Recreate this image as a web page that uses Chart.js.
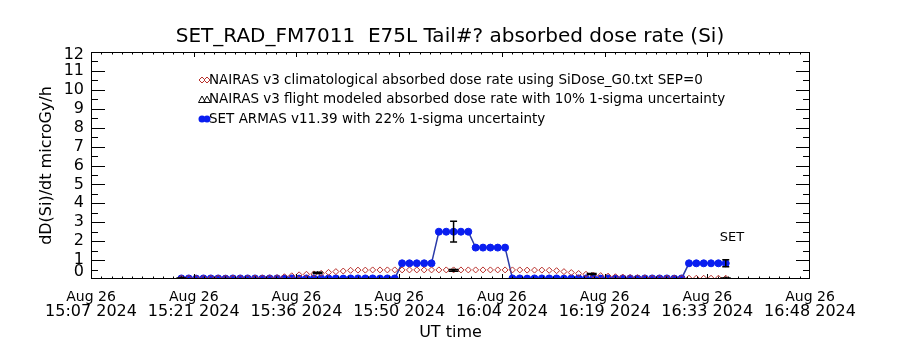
<!DOCTYPE html>
<html>
<head>
<meta charset="utf-8">
<title>SET_RAD_FM7011 absorbed dose rate</title>
<script src="https://cdn.jsdelivr.net/npm/chart.js@4"></script>
<style>
  html, body { margin: 0; padding: 0; background: #fff; }
  #chart { display: block; }
</style>
</head>
<body>
<canvas id="chart" width="900" height="350"></canvas>
<script>
// ARMAS record times (UT, Aug 26 2024)
const sampleTimes = [
  '15:19:42', '15:20:44', '15:21:46', '15:22:48', '15:23:50', '15:24:52', '15:25:54', '15:26:56', '15:27:58', '15:29:00',
  '15:30:02', '15:31:04', '15:32:06', '15:33:08', '15:34:10', '15:35:12', '15:36:14', '15:37:16', '15:38:18', '15:39:20',
  '15:40:22', '15:41:24', '15:42:26', '15:43:28', '15:44:30', '15:45:32', '15:46:34', '15:47:36', '15:48:38', '15:49:40',
  '15:50:42', '15:51:44', '15:52:46', '15:53:48', '15:54:50', '15:55:52', '15:56:54', '15:57:56', '15:58:58', '16:00:00',
  '16:01:02', '16:02:04', '16:03:06', '16:04:08', '16:05:10', '16:06:12', '16:07:14', '16:08:16', '16:09:18', '16:10:20',
  '16:11:22', '16:12:24', '16:13:26', '16:14:28', '16:15:30', '16:16:32', '16:17:34', '16:18:36', '16:19:38', '16:20:40',
  '16:21:42', '16:22:44', '16:23:46', '16:24:48', '16:25:50', '16:26:52', '16:27:54', '16:28:56', '16:29:58', '16:31:00',
  '16:32:02', '16:33:04', '16:34:06', '16:35:08', '16:36:10'
];

// SET ARMAS v11.39 dose rate, microGy/h
const armasDose = [
  0.03, 0.03, 0.02, 0.03, 0.03, 0.03, 0.02, 0.03, 0.03, 0.03,
  0.03, 0.02, 0.03, 0.03, 0.03, 0.03, 0.02, 0.03, 0.03, 0.03,
  0.03, 0.03, 0.02, 0.03, 0.03, 0.03, 0.03, 0.02, 0.03, 0.03,
  0.83, 0.83, 0.83, 0.83, 0.83, 2.50, 2.50, 2.50, 2.50, 2.50,
  1.66, 1.66, 1.66, 1.66, 1.66, 0.03, 0.03, 0.02, 0.03, 0.03,
  0.03, 0.03, 0.02, 0.03, 0.03, 0.03, 0.03, 0.02, 0.03, 0.03,
  0.03, 0.03, 0.02, 0.03, 0.03, 0.03, 0.03, 0.02, 0.03, 0.83,
  0.83, 0.83, 0.83, 0.83, 0.83
];

// NAIRAS v3 climatological dose rate (SiDose_G0.txt, SEP=0)
const climDose = [
  0.04, 0.04, 0.04, 0.04, 0.04, 0.05, 0.05, 0.05, 0.05, 0.05,
  0.05, 0.06, 0.06, 0.07, 0.12, 0.17, 0.22, 0.25, 0.27, 0.30,
  0.35, 0.39, 0.42, 0.46, 0.47, 0.47, 0.48, 0.48, 0.48, 0.48,
  0.48, 0.48, 0.48, 0.48, 0.48, 0.48, 0.48, 0.48, 0.48, 0.48,
  0.48, 0.48, 0.48, 0.48, 0.48, 0.48, 0.48, 0.47, 0.47, 0.47,
  0.46, 0.44, 0.39, 0.34, 0.29, 0.25, 0.21, 0.18, 0.15, 0.12,
  0.10, 0.08, 0.07, 0.06, 0.05, 0.05, 0.05, 0.05, 0.05, 0.04,
  0.04, 0.04, 0.04, 0.04, 0.04
];

// NAIRAS v3 flight modeled dose rate
const modelTimes = ['15:19:42', '15:38:50', '15:57:56', '16:17:20', '16:36:10'];
const modelDose = [0.05, 0.32, 0.46, 0.26, 0.05];

const armasSigma = 0.22;
const modelSigma = 0.10;
const armasErrIdx = [37, 74];

const tickTimes = ['15:07:00', '15:21:26', '15:35:51', '15:50:17', '16:04:43', '16:19:09', '16:33:34', '16:48:00'];
const tickDates = ['Aug 26', 'Aug 26', 'Aug 26', 'Aug 26', 'Aug 26', 'Aug 26', 'Aug 26', 'Aug 26'];
const tickClock = ['15:07 2024', '15:21 2024', '15:36 2024', '15:50 2024', '16:04 2024', '16:19 2024', '16:33 2024', '16:48 2024'];

const legendLabels = [
  'NAIRAS v3 climatological absorbed dose rate using SiDose_G0.txt SEP=0',
  'NAIRAS v3 flight modeled absorbed dose rate with 10% 1-sigma uncertainty',
  'SET ARMAS v11.39 with 22% 1-sigma uncertainty'
];

// minutes since 15:07:00
function toMin(t) {
  const [h, m, s] = t.split(':').map(Number);
  return h * 60 + m + s / 60 - (15 * 60 + 7);
}

const BLUE = '#0a1ef0';
const BLUE_LINE = '#2a3aa8';
const RED = '#b8302b';
const tMin = toMin(tickTimes[0]);
const tMax = toMin(tickTimes[tickTimes.length - 1]);

Chart.defaults.font.family = "'DejaVu Sans', sans-serif";
Chart.defaults.color = '#000';

// IDL style box with inward ticks, error bars, legend and label
const idlFrame = {
  id: 'idlFrame',
  beforeDraw(chart) {
    // IDL pulls the end labels of the y axis inside the box
    const items = chart.scales.y.getLabelItems();
    items.forEach(it => {
      if (it.label === '0') it.options.translation[1] -= 7;
      if (it.label === '12') it.options.translation[1] += 3;
    });
  },
  afterDatasetsDraw(chart) {
    const { ctx, chartArea: a, scales: { x, y } } = chart;
    ctx.save();
    ctx.beginPath();
    ctx.rect(a.left, a.top, a.right - a.left, a.bottom - a.top);
    ctx.clip();
    ctx.strokeStyle = '#000';
    ctx.lineWidth = 1.5;
    const bar = (t, v, sig, cap) => {
      const px = x.getPixelForValue(t);
      const lo = y.getPixelForValue(v * (1 - sig));
      const hi = y.getPixelForValue(v * (1 + sig));
      ctx.beginPath();
      ctx.moveTo(px, lo); ctx.lineTo(px, hi);
      ctx.moveTo(px - cap, lo); ctx.lineTo(px + cap, lo);
      ctx.moveTo(px - cap, hi); ctx.lineTo(px + cap, hi);
      ctx.stroke();
    };
    modelTimes.forEach((t, i) => bar(toMin(t), modelDose[i], modelSigma, 5));
    armasErrIdx.forEach(i => bar(toMin(sampleTimes[i]), armasDose[i], armasSigma, 3.5));
    ctx.restore();

    // frame
    ctx.save();
    ctx.strokeStyle = '#000';
    ctx.lineWidth = 1;
    ctx.strokeRect(a.left + 0.5, a.top + 0.5, a.right - a.left - 1, a.bottom - a.top - 1);
    ctx.beginPath();
    // y ticks, major every 1 and minor every 0.5
    for (let v = 0.5; v < 12; v += 0.5) {
      const py = Math.round(y.getPixelForValue(v)) + 0.5;
      const len = Number.isInteger(v) ? 14 : 7;
      ctx.moveTo(a.left, py); ctx.lineTo(a.left + len, py);
      ctx.moveTo(a.right, py); ctx.lineTo(a.right - len, py);
    }
    // x ticks, 10 minor per major
    const nMinor = (tickTimes.length - 1) * 10;
    const step = (tMax - tMin) / nMinor;
    for (let k = 1; k < nMinor; k++) {
      const px = Math.round(x.getPixelForValue(tMin + k * step)) + 0.5;
      const len = k % 10 === 0 ? 5 : 2.5;
      ctx.moveTo(px, a.bottom); ctx.lineTo(px, a.bottom - len);
      ctx.moveTo(px, a.top); ctx.lineTo(px, a.top + len);
    }
    ctx.stroke();
    ctx.restore();
  },
  afterDraw(chart) {
    const { ctx, chartArea: a, scales: { x, y } } = chart;
    ctx.save();
    ctx.font = "13.5px 'DejaVu Sans'";
    ctx.textBaseline = 'middle';
    ctx.textAlign = 'left';
    const rows = [a.top + 28, a.top + 47.5, a.top + 67];
    const sx = [a.left + 111, a.left + 116];

    // climatology diamonds
    ctx.strokeStyle = RED;
    ctx.lineWidth = 1;
    sx.forEach(cx => {
      ctx.beginPath();
      ctx.moveTo(cx, rows[0] - 3); ctx.lineTo(cx + 3, rows[0]);
      ctx.lineTo(cx, rows[0] + 3); ctx.lineTo(cx - 3, rows[0]);
      ctx.closePath(); ctx.stroke();
    });
    // modeled triangles
    ctx.strokeStyle = '#000';
    sx.forEach(cx => {
      ctx.beginPath();
      ctx.moveTo(cx, rows[1] - 3.5); ctx.lineTo(cx + 3.5, rows[1] + 3);
      ctx.lineTo(cx - 3.5, rows[1] + 3); ctx.closePath(); ctx.stroke();
    });
    // ARMAS line + dots
    ctx.strokeStyle = BLUE_LINE;
    ctx.lineWidth = 1.5;
    ctx.beginPath(); ctx.moveTo(sx[0] - 3, rows[2]); ctx.lineTo(sx[1] + 3, rows[2]); ctx.stroke();
    ctx.fillStyle = BLUE;
    sx.forEach(cx => { ctx.beginPath(); ctx.arc(cx, rows[2], 3.5, 0, Math.PI * 2); ctx.fill(); });

    ctx.fillStyle = '#000';
    legendLabels.forEach((txt, i) => ctx.fillText(txt, a.left + 118, rows[i]));

    // instrument tag
    const last = sampleTimes[sampleTimes.length - 1];
    ctx.font = "13px 'DejaVu Sans'";
    ctx.fillText('SET', x.getPixelForValue(toMin(last)) - 6, y.getPixelForValue(2.2));
    ctx.restore();
  }
};

const timeTicks = s => { s.ticks = tickTimes.map(t => ({ value: toMin(t) })); };

new Chart(document.getElementById('chart'), {
  type: 'line',
  data: {
    datasets: [
      {
        label: legendLabels[2],
        data: sampleTimes.map((t, i) => ({ x: toMin(t), y: armasDose[i] })),
        borderColor: BLUE_LINE,
        borderWidth: 1.5,
        pointStyle: 'circle',
        pointRadius: 3.5,
        pointBorderWidth: 1,
        pointBackgroundColor: BLUE,
        pointBorderColor: BLUE,
        clip: 0,
        order: 3
      },
      {
        label: legendLabels[0],
        data: sampleTimes.map((t, i) => ({ x: toMin(t), y: climDose[i] })),
        showLine: false,
        pointStyle: 'rectRot',
        pointRadius: 3,
        pointBorderWidth: 1,
        pointBorderColor: RED,
        pointBackgroundColor: 'rgba(0,0,0,0)',
        clip: 0,
        order: 2
      },
      {
        label: legendLabels[1],
        data: modelTimes.map((t, i) => ({ x: toMin(t), y: modelDose[i] })),
        showLine: false,
        pointStyle: 'triangle',
        pointRadius: 1.5,
        pointBorderWidth: 1,
        pointBorderColor: '#000',
        pointBackgroundColor: 'rgba(0,0,0,0)',
        clip: 0,
        order: 1
      }
    ]
  },
  options: {
    responsive: false,
    animation: false,
    events: [],
    layout: { padding: 0 },
    plugins: {
      legend: { display: false },
      tooltip: { enabled: false },
      title: {
        display: true,
        text: 'SET_RAD_FM7011  E75L Tail#? absorbed dose rate (Si)',
        color: '#000',
        font: { size: 20, weight: 'normal', lineHeight: 1.2 },
        padding: { top: 25, bottom: 3 }
      }
    },
    scales: {
      // date line of the time labels
      x: {
        type: 'linear',
        min: tMin,
        max: tMax,
        weight: 0,
        afterBuildTicks: timeTicks,
        afterFit: s => { s.height = 25; },
        grid: { display: false, drawTicks: false },
        border: { display: false },
        ticks: {
          autoSkip: false,
          maxRotation: 0,
          padding: 11,
          font: { size: 14, lineHeight: 1 },
          callback: (v, i) => tickDates[i]
        }
      },
      // clock line of the time labels
      x2: {
        type: 'linear',
        position: 'bottom',
        min: tMin,
        max: tMax,
        weight: 1,
        afterBuildTicks: timeTicks,
        afterFit: s => { s.height = 46; },
        grid: { display: false, drawTicks: false },
        border: { display: false },
        ticks: {
          autoSkip: false,
          maxRotation: 0,
          padding: 0,
          font: { size: 16, lineHeight: 1 },
          callback: (v, i) => tickClock[i]
        },
        title: { display: true, text: 'UT time', font: { size: 16 }, padding: { top: 0, bottom: 8 } }
      },
      y: {
        type: 'linear',
        min: 0,
        max: 12,
        afterFit: s => { s.width = 91; },
        grid: { display: false, drawTicks: false },
        border: { display: false },
        ticks: { stepSize: 1, autoSkip: false, padding: 7, font: { size: 16 } },
        title: { display: true, text: 'dD(Si)/dt microGy/h', font: { size: 16 }, padding: { top: 37, bottom: 0 } }
      },
      y2: {
        type: 'linear',
        position: 'right',
        display: true,
        afterFit: s => { s.width = 90; },
        grid: { display: false, drawTicks: false },
        border: { display: false },
        ticks: { display: false }
      }
    }
  },
  plugins: [idlFrame]
});
</script>
</body>
</html>
